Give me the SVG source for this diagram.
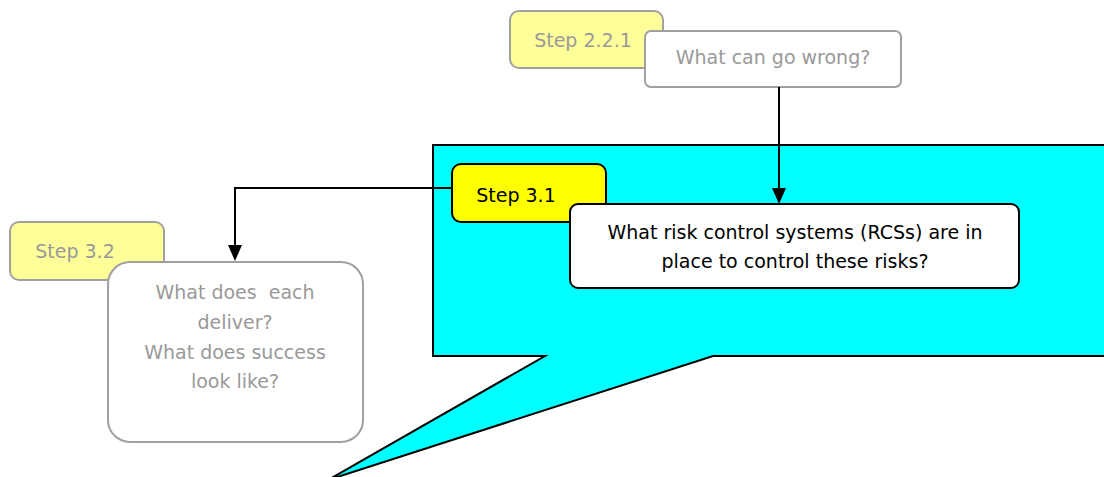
<svg xmlns="http://www.w3.org/2000/svg" width="1104" height="477" viewBox="0 0 1104 477">
<defs>
<style>
text{font-family:"DejaVu Sans","Liberation Sans",sans-serif;font-size:19px;text-anchor:middle;white-space:pre}
.g{fill:#999999}
.k{fill:#000}
.pale{fill:#FFFF99;stroke:#a0a0a0;stroke-width:2}
.wg{fill:#fff;stroke:#a0a0a0;stroke-width:2}
.yb{fill:#FFFF00;stroke:#000;stroke-width:2}
.wb{fill:#fff;stroke:#000;stroke-width:2}
.con{fill:none;stroke:#000;stroke-width:2}
.ah{fill:#000}
</style>
</defs>
<g id="callout">
<path d="M433,145 L1110,145 L1110,356 L713,356 L328,480 L545,356 L433,356 Z" fill="#00FFFF" stroke="#000" stroke-width="2"/>
</g>
<g id="step221">
<rect class="pale" x="510" y="11" width="153" height="57" rx="9"/>
<text class="g" x="583" y="47">Step 2.2.1</text>
</g>
<g id="wrong">
<rect class="wg" x="645" y="31" width="256" height="56" rx="6"/>
<text class="g" x="773" y="64">What can go wrong?</text>
</g>
<g id="step31">
<rect class="yb" x="452" y="164" width="154" height="58" rx="9"/>
<text class="k" x="516" y="202">Step 3.1</text>
</g>
<g id="rcs">
<rect class="wb" x="570" y="204" width="449" height="84" rx="8"/>
<text class="k" x="795" y="239">What risk control systems (RCSs) are in</text>
<text class="k" x="795" y="268">place to control these risks?</text>
</g>
<g id="step32">
<rect class="pale" x="10" y="222" width="154" height="58" rx="9"/>
<text class="g" x="75" y="258">Step 3.2</text>
</g>
<g id="deliver">
<rect class="wg" x="108" y="262" width="255" height="180" rx="22"/>
<text class="g" x="235" y="299" xml:space="preserve">What does  each</text>
<text class="g" x="235" y="329">deliver?</text>
<text class="g" x="235" y="359">What does success</text>
<text class="g" x="235" y="388">look like?</text>
</g>
<g id="connectors">
<path class="con" d="M779,87 L779,190"/>
<path class="ah" d="M772,188 L786,188 L779,204 Z"/>
<path class="con" d="M452,188 L235,188 L235,246"/>
<path class="ah" d="M228,245 L242,245 L235,261 Z"/>
</g>
</svg>
